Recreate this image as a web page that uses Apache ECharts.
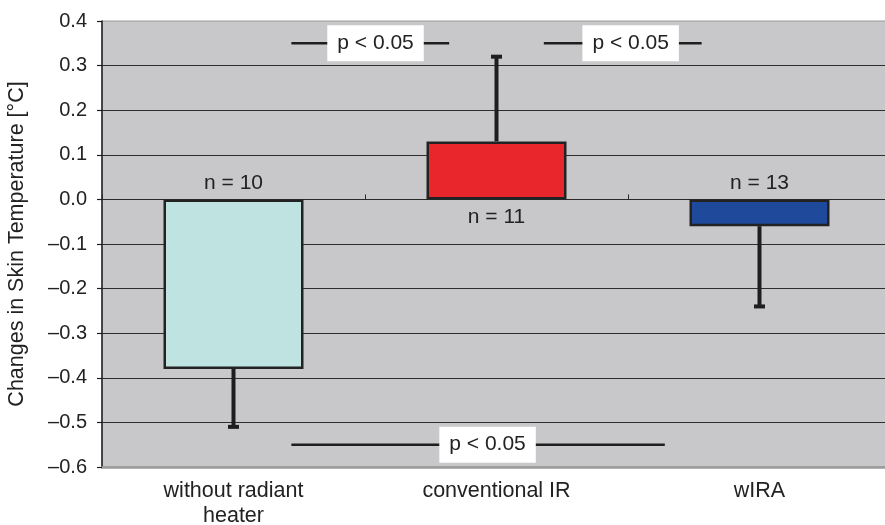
<!DOCTYPE html>
<html>
<head>
<meta charset="utf-8">
<script src="https://cdn.jsdelivr.net/npm/echarts@6/dist/echarts.min.js"></script>
<style>
  html, body { margin: 0; padding: 0; background: #fff; }
  #chart { width: 885px; height: 525px; }
</style>
</head>
<body>
<div id="chart"></div>
<script>
// Groups and their mean change in skin temperature (°C)
const categories = ['without radiant\nheater', 'conventional IR', 'wIRA'];
const means = [-0.38, 0.13, -0.06];
// End point of each one-sided error bar (°C)
const errorEnds = [-0.51, 0.32, -0.24];
const sampleLabels = ['n = 10', 'n = 11', 'n = 13'];
const barColors = ['#BFE3E0', '#E8262B', '#1F4A9C'];
const yTicks = { min: -0.6, max: 0.4, step: 0.1 };

// Significance brackets: [x start, x end] on a 0..3 scale, y level, label x
const bracketSpans = [[0.72, 1.32], [1.68, 2.28], [0.72, 2.14]];
const bracketLevels = [0.35, 0.35, -0.55];
const bracketLabelX = [1.04, 2.01, 1.466];
const bracketText = 'p < 0.05';

const FONT = '"Liberation Sans", Arial, Helvetica, sans-serif';
const INK = '#1e1e1e';
const TEXT = '#222';

const chart = echarts.init(document.getElementById('chart'));

const fmtTick = v => {
  const r = Math.round(v * 10) / 10;
  return (r < 0 ? '\u2013' : '') + Math.abs(r).toFixed(1);
};

const barData = means.map((v, i) => ({
  value: v,
  itemStyle: { color: barColors[i] }
}));

const errorData = means.map((v, i) => [i, v, errorEnds[i]]);

// n labels: above the zero line for negative bars, below it for positive ones
const nData = means.map((v, i) => ({
  value: [i, 0],
  label: { position: v < 0 ? 'top' : 'bottom', distance: v < 0 ? 6 : 7 }
}));

const bracketSeries = bracketSpans.map((span, i) => ({
  type: 'line',
  xAxisIndex: 2,
  yAxisIndex: 0,
  data: [[span[0], bracketLevels[i]], [span[1], bracketLevels[i]]],
  symbol: 'none',
  lineStyle: { color: INK, width: 2.5 },
  silent: true,
  z: 5
}));

const bracketLabels = {
  type: 'scatter',
  xAxisIndex: 2,
  yAxisIndex: 0,
  data: bracketLabelX.map((x, i) => [x, bracketLevels[i]]),
  symbolSize: 0,
  itemStyle: { opacity: 1 },
  label: {
    show: true,
    position: 'inside',
    formatter: bracketText,
    fontFamily: FONT,
    fontSize: 21,
    color: TEXT,
    opacity: 1,
    backgroundColor: '#ffffff',
    padding: [8, 10, 7, 10]
  },
  silent: true,
  z: 6
};

chart.setOption({
  animation: false,
  grid: {
    left: 102,
    top: 21,
    width: 789,
    height: 446,
    outerBoundsMode: 'none',
    containLabel: false,
    show: true,
    backgroundColor: '#C8C8CA',
    borderColor: '#9a9a9a',
    borderWidth: 1
  },
  xAxis: [
    {
      type: 'category',
      data: categories,
      position: 'bottom',
      axisLine: { onZero: false, lineStyle: { color: '#9a9a9a', width: 2.5 } },
      axisTick: { show: false },
      axisLabel: {
        fontFamily: FONT,
        fontSize: 21.5,
        color: TEXT,
        margin: 12,
        lineHeight: 25
      }
    },
    {
      type: 'category',
      data: categories,
      axisLine: { onZero: true, lineStyle: { color: '#2a2a2a', width: 1 } },
      axisTick: { show: true, length: 5, lineStyle: { color: '#2a2a2a', width: 1 } },
      axisLabel: { show: false },
      z: 3
    },
    {
      type: 'value',
      min: 0,
      max: 3,
      show: false
    }
  ],
  yAxis: {
    type: 'value',
    min: yTicks.min,
    max: yTicks.max,
    interval: yTicks.step,
    name: 'Changes in Skin Temperature [\u00B0C]',
    nameLocation: 'middle',
    nameGap: 74,
    nameTextStyle: { fontFamily: FONT, fontSize: 21.5, color: TEXT },
    axisLine: { show: true, lineStyle: { color: '#1e1e1e', width: 1.5 } },
    axisTick: { show: true, length: 5, lineStyle: { color: '#1e1e1e', width: 1.2 } },
    axisLabel: {
      formatter: fmtTick,
      fontFamily: FONT,
      fontSize: 20,
      color: TEXT,
      margin: 15
    },
    splitLine: {
      show: true,
      showMinLine: false,
      showMaxLine: false,
      lineStyle: { color: '#2e2e2e', width: 1.2 }
    }
  },
  series: [
    {
      type: 'bar',
      xAxisIndex: 0,
      data: barData,
      barWidth: 140,
      itemStyle: { borderColor: '#222', borderWidth: 2.5 },
      z: 4
    },
    {
      type: 'custom',
      xAxisIndex: 0,
      data: errorData,
      z: 4,
      renderItem: (params, api) => {
        const from = api.coord([api.value(0), api.value(1)]);
        const to = api.coord([api.value(0), api.value(2)]);
        const capW = 11, capH = 4;
        return {
          type: 'group',
          children: [
            {
              type: 'line',
              shape: { x1: from[0], y1: from[1], x2: to[0], y2: to[1] },
              style: { stroke: INK, lineWidth: 4 }
            },
            {
              type: 'rect',
              shape: { x: to[0] - capW / 2, y: to[1] - capH / 2, width: capW, height: capH },
              style: { fill: INK }
            }
          ]
        };
      }
    },
    {
      type: 'scatter',
      xAxisIndex: 0,
      data: nData,
      symbolSize: 0,
      itemStyle: { opacity: 1 },
      label: {
        show: true,
        formatter: p => sampleLabels[p.dataIndex],
        fontFamily: FONT,
        fontSize: 21,
        color: TEXT,
        opacity: 1
      },
      silent: true,
      z: 6
    },
    ...bracketSeries,
    bracketLabels
  ]
});
</script>
</body>
</html>
